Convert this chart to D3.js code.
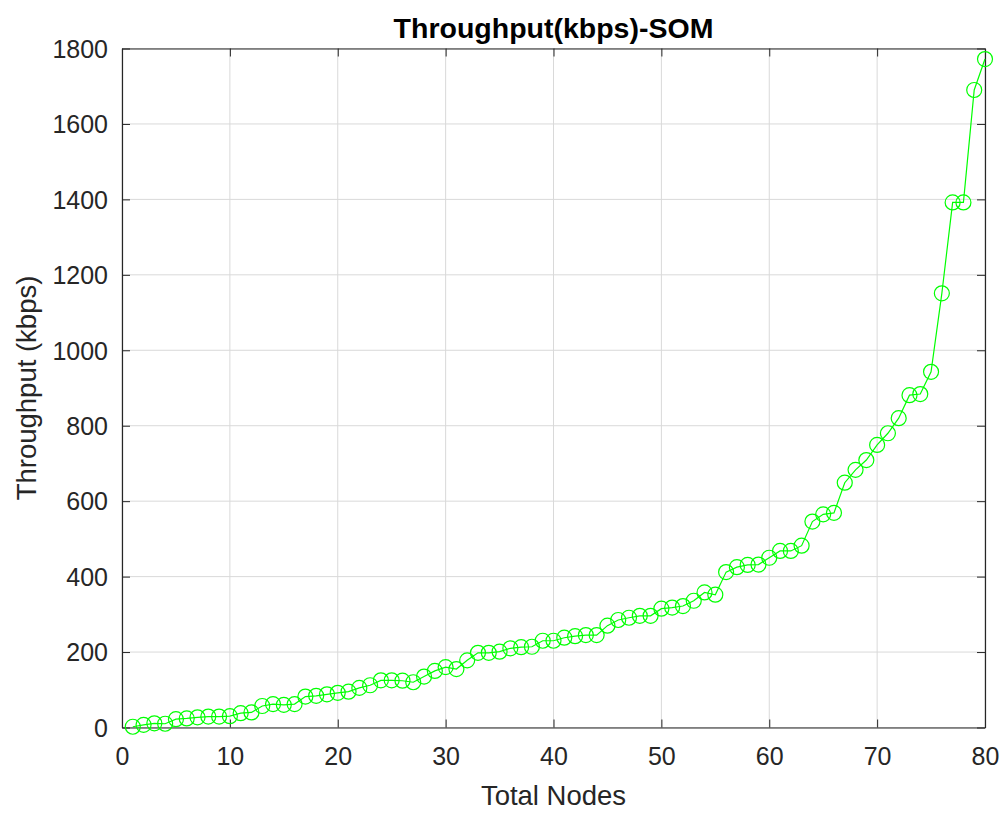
<!DOCTYPE html>
<html>
<head>
<meta charset="utf-8">
<script src="https://cdn.jsdelivr.net/npm/d3@7"></script>
<style>
  html, body { margin: 0; padding: 0; background: #fff; }
  svg { display: block; }
  text { font-family: "Liberation Sans", Arial, Helvetica, sans-serif; fill: #262626; }
</style>
</head>
<body>
<script>
// ---- data ----
const nodes = d3.range(1, 81);
const throughput = [
  2, 7, 11, 10, 22, 24, 27, 29, 29, 30,
  38, 40, 57, 62, 60, 62, 82, 84, 88, 92,
  95, 105, 112, 125, 125, 124, 120, 135, 150, 160,
  155, 178, 198, 198, 201, 210, 213, 214, 230, 230,
  238, 242, 245, 245, 270, 285, 291, 296, 296, 315,
  318, 322, 336, 358, 352, 412, 425, 431, 432, 450,
  468, 468, 482, 546, 565, 569, 649, 683, 709, 749,
  780, 820, 881, 884, 943, 1151, 1392, 1392, 1690, 1772
];
const xTicks = [0, 10, 20, 30, 40, 50, 60, 70, 80];
const yTicks = [0, 200, 400, 600, 800, 1000, 1200, 1400, 1600, 1800];
const titleText = "Throughput(kbps)-SOM";
const xLabelText = "Total Nodes";
const yLabelText = "Throughput (kbps)";

// ---- layout ----
const W = 1007, H = 815;
const mLeft = 122, mRight = 985, mTop = 48.5, mBottom = 727.5;

const svg = d3.select("body").append("svg").attr("width", W).attr("height", H);

const x = d3.scaleLinear().domain([0, 80]).range([mLeft, mRight]);
const y = d3.scaleLinear().domain([0, 1800]).range([mBottom, mTop]);
const fmt = d3.format("d");

// grid
const grid = svg.append("g").attr("stroke", "#d9d9d9").attr("stroke-width", 1);
xTicks.forEach(t => grid.append("line")
  .attr("x1", x(t)).attr("x2", x(t)).attr("y1", mTop).attr("y2", mBottom));
yTicks.forEach(t => grid.append("line")
  .attr("x1", mLeft).attr("x2", mRight).attr("y1", y(t)).attr("y2", y(t)));

// axes
const tickLen = 8;
const xAxis = svg.append("g").attr("transform", `translate(0,${mBottom})`)
  .call(d3.axisBottom(x).tickValues(xTicks).tickFormat(fmt).tickSizeInner(-tickLen).tickSizeOuter(0).tickPadding(20));
const yAxis = svg.append("g").attr("transform", `translate(${mLeft},0)`)
  .call(d3.axisLeft(y).tickValues(yTicks).tickFormat(fmt).tickSizeInner(-tickLen).tickSizeOuter(0).tickPadding(14));
const xAxisTop = svg.append("g").attr("transform", `translate(0,${mTop})`)
  .call(d3.axisTop(x).tickValues(xTicks).tickSizeInner(-tickLen).tickSizeOuter(0).tickFormat(""));
const yAxisRight = svg.append("g").attr("transform", `translate(${mRight},0)`)
  .call(d3.axisRight(y).tickValues(yTicks).tickSizeInner(-tickLen).tickSizeOuter(0).tickFormat(""));

[xAxis, yAxis, xAxisTop, yAxisRight].forEach(g => {
  g.select(".domain").attr("stroke", "#262626").attr("stroke-width", 1.2);
  g.selectAll(".tick line").attr("stroke", "#262626").attr("stroke-width", 1);
  g.selectAll(".tick text").attr("font-size", 25)
    .attr("font-family", "'Liberation Sans', Arial, sans-serif").attr("fill", "#262626");
});
yAxis.selectAll(".tick text").attr("dy", "0.35em");

// line
const line = d3.line().x((d, i) => x(nodes[i])).y(d => y(d));
svg.append("path").datum(throughput)
  .attr("fill", "none").attr("stroke", "#00ff00").attr("stroke-width", 1.2)
  .attr("d", line);

// markers
svg.append("g").selectAll("circle").data(throughput).join("circle")
  .attr("cx", (d, i) => x(nodes[i])).attr("cy", d => y(d)).attr("r", 7.5)
  .attr("fill", "none").attr("stroke", "#00ff00").attr("stroke-width", 1.2);

// labels
svg.append("text").attr("x", (mLeft + mRight) / 2).attr("y", 38)
  .attr("text-anchor", "middle").attr("font-size", 28.5).attr("font-weight", "bold")
  .style("fill", "#000").text(titleText);
svg.append("text").attr("x", (mLeft + mRight) / 2).attr("y", 805)
  .attr("text-anchor", "middle").attr("font-size", 27.5).text(xLabelText);
svg.append("text").attr("transform", `translate(36,${(mTop + mBottom) / 2}) rotate(-90)`)
  .attr("text-anchor", "middle").attr("font-size", 27.5).text(yLabelText);
</script>
</body>
</html>
